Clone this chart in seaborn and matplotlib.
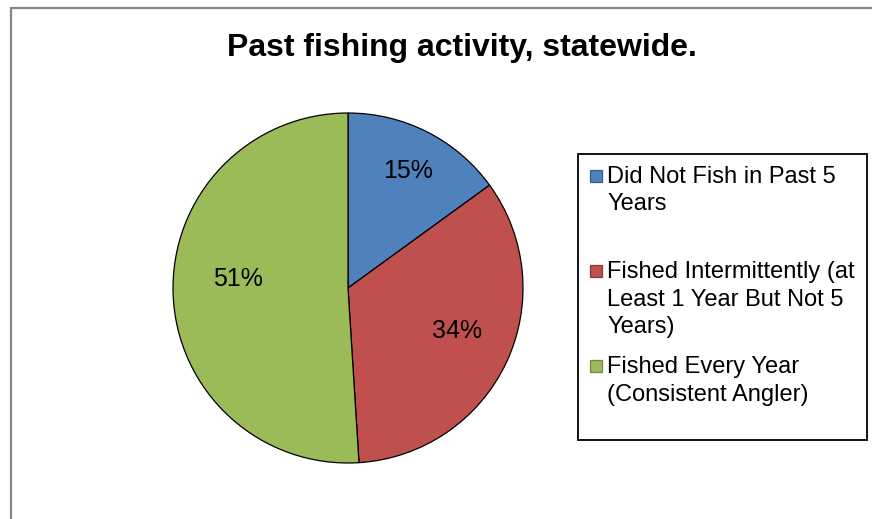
import matplotlib
matplotlib.use("Agg")
import matplotlib.pyplot as plt
import seaborn as sns
import numpy as np
from matplotlib.patches import Rectangle

# ---- data ----
title = "Past fishing activity, statewide."
categories = [
    "Did Not Fish in Past 5\nYears",
    "Fished Intermittently (at\nLeast 1 Year But Not 5\nYears)",
    "Fished Every Year\n(Consistent Angler)",
]
values = [15, 34, 51]

# ---- style ----
sns.set_theme(style="white")
plt.rcParams["font.family"] = ["Liberation Sans", "DejaVu Sans"]
colors = sns.color_palette(["#4F81BD", "#C0504D", "#9BBB59"])
edge_colors = ["#385D8A", "#8C3836", "#71893F"]
label_r = [0.75, 0.67, 0.63]
label_dtheta = [0.0, 3.7, -6.7]

W, H = 872, 519
fig = plt.figure(figsize=(W / 100, H / 100), dpi=100)
fig.patch.set_facecolor("white")

def fx(x):
    return x / W

def fy(y):
    return 1 - y / H

# outer chart border (extends past the right/bottom edge)
fig.patches.append(Rectangle((fx(11), fy(560)), fx(900) - fx(11), fy(8) - fy(560),
                             transform=fig.transFigure, fill=False,
                             edgecolor="#868686", linewidth=1.6))

# title
fig.text(fx(462), fy(56), title, ha="center", va="baseline",
         fontsize=23, fontweight="bold", color="black")

# pie
cx, cy, r = 348, 288, 175
ax = fig.add_axes([fx(cx - r), fy(cy + r), 2 * r / W, 2 * r / H])
wedges, _ = ax.pie(values, colors=colors, startangle=90, counterclock=False,
                   wedgeprops=dict(edgecolor="black", linewidth=0.9))
ax.set_xlim(-1, 1)
ax.set_ylim(-1, 1)
ax.set_axis_off()

for w, v, rr, dt in zip(wedges, values, label_r, label_dtheta):
    mid = np.deg2rad((w.theta1 + w.theta2) / 2 + dt)
    ax.text(rr * np.cos(mid), rr * np.sin(mid), f"{v}%", ha="center",
            va="center", fontsize=18, color="black")

# legend (Excel style: equal slot per entry, marker on first line)
lx0, ly0, lx1, ly1 = 578, 154, 867, 440
fig.patches.append(Rectangle((fx(lx0), fy(ly1)), fx(lx1) - fx(lx0), fy(ly0) - fy(ly1),
                             transform=fig.transFigure, fill=True, facecolor="white",
                             edgecolor="black", linewidth=1.3))
first_base = 183
slot = 95
line_pitch = 27.5
sq = 11.5
for i, (lab, c, ec) in enumerate(zip(categories, colors, edge_colors)):
    base = first_base + i * slot
    yc = base - 7
    fig.patches.append(Rectangle((fx(590), fy(yc + sq / 2)), sq / W, sq / H,
                                 transform=fig.transFigure, facecolor=c,
                                 edgecolor=ec, linewidth=0.9))
    for j, line in enumerate(lab.split("\n")):
        fig.text(fx(607), fy(base + j * line_pitch), line, ha="left",
                 va="baseline", fontsize=17, color="black")

fig.savefig("out.png", dpi=100)
